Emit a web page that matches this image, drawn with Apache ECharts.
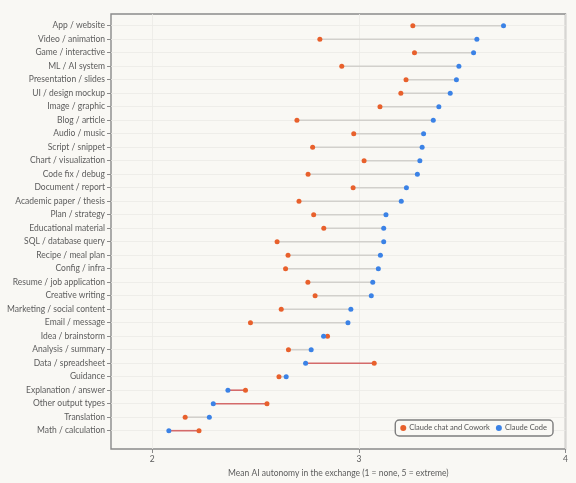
<!DOCTYPE html>
<html><head><meta charset="utf-8">
<script src="https://cdn.jsdelivr.net/npm/echarts@6/dist/echarts.min.js"></script>
<style>html,body{margin:0;padding:0;background:#f9f8f4}#c{width:576px;height:483px}</style>
</head><body><div id="c"></div>
<script>
const categories = ["App / website","Video / animation","Game / interactive","ML / AI system","Presentation / slides","UI / design mockup","Image / graphic","Blog / article","Audio / music","Script / snippet","Chart / visualization","Code fix / debug","Document / report","Academic paper / thesis","Plan / strategy","Educational material","SQL / database query","Recipe / meal plan","Config / infra","Resume / job application","Creative writing","Marketing / social content","Email / message","Idea / brainstorm","Analysis / summary","Data / spreadsheet","Guidance","Explanation / answer","Other output types","Translation","Math / calculation"];
const chatCowork = [3.261,2.811,3.269,2.917,3.228,3.203,3.102,2.700,2.975,2.776,3.025,2.754,2.972,2.710,2.781,2.830,2.604,2.657,2.645,2.753,2.788,2.624,2.475,2.848,2.659,3.074,2.613,2.451,2.555,2.159,2.226];
const claudeCode = [3.700,3.571,3.555,3.484,3.472,3.442,3.387,3.360,3.313,3.306,3.295,3.283,3.230,3.205,3.131,3.120,3.120,3.104,3.094,3.067,3.060,2.961,2.947,2.829,2.769,2.742,2.648,2.366,2.295,2.276,2.080];
const xTicks = [2,3,4];
</script>
<script>
const cats = categories;
const font = 'Lato';
const chart = echarts.init(document.getElementById('c'));
chart.setOption({
  backgroundColor:'#f9f8f4',
  animation:false,
  grid:[
    {left:111,right:10.5,top:14,bottom:33.5,show:true,borderColor:'#8a8a8a',borderWidth:1.4,backgroundColor:'transparent'},
    {left:111,right:10.5,top:25.7,bottom:52.3}
  ],
  xAxis:[
    {gridIndex:0,type:'value',min:1.8,max:4,
     axisLine:{show:false},
     axisTick:{show:true,customValues:xTicks,length:4,lineStyle:{color:'#8a8a8a',width:1}},
     axisLabel:{customValues:xTicks,color:'#5c5c5c',fontFamily:font,fontSize:8.5,margin:6},
     splitLine:{show:true,lineStyle:{color:'#ebeae6',width:0.8}},
     name:'Mean AI autonomy in the exchange (1 = none, 5 = extreme)',nameLocation:'middle',nameGap:20,
     nameTextStyle:{color:'#5c5c5c',fontFamily:font,fontSize:8.5}},
    {gridIndex:1,type:'value',min:1.8,max:4,show:false}
  ],
  yAxis:[
    {gridIndex:0,type:'value',show:false},
    {gridIndex:1,type:'category',data:cats,inverse:true,boundaryGap:false,
     axisLine:{show:false},
     axisTick:{show:true,length:4,lineStyle:{color:'#8a8a8a'}},
     axisLabel:{color:'#5c5c5c',fontFamily:font,fontSize:8.5,margin:6,interval:0},
     splitLine:{show:true,lineStyle:{color:'#ebeae6',width:0.8}}}
  ],
  legend:{
    data:['Claude chat and Cowork','Claude Code'],
    right:23,top:420,orient:'horizontal',
    padding:[4,6,4,5],itemGap:6,
    borderColor:'#7d7d7d',borderWidth:1.4,borderRadius:4,backgroundColor:'#faf9f5',
    icon:'circle',itemWidth:6,itemHeight:6,
    textStyle:{color:'#555',fontFamily:font,fontSize:7.5,padding:[0,0,0,-2]}
  },
  series:[
    {type:'custom',xAxisIndex:1,yAxisIndex:1,z:1,
     data:cats.map((c,i)=>[i,chatCowork[i],claudeCode[i]]),
     encode:{x:[1,2],y:0},
     renderItem:function(params,api){
       const cat=api.value(0),a=api.value(1),b=api.value(2);
       const p1=api.coord([a,cat]),p2=api.coord([b,cat]);
       return {type:'line',shape:{x1:p1[0],y1:p1[1],x2:p2[0],y2:p2[1]},
         style:{stroke:a>b?'#d46a6a':'#d2d0cc',lineWidth:1.6}};
     }},
    {name:'Claude chat and Cowork',type:'scatter',xAxisIndex:1,yAxisIndex:1,z:3,
     symbolSize:5,itemStyle:{color:'#e8602c',opacity:1},
     data:cats.map((c,i)=>[chatCowork[i],c])},
    {name:'Claude Code',type:'scatter',xAxisIndex:1,yAxisIndex:1,z:3,
     symbolSize:5,itemStyle:{color:'#3b82e6',opacity:1},
     data:cats.map((c,i)=>[claudeCode[i],c])}
  ]
});
</script>
</body></html>
